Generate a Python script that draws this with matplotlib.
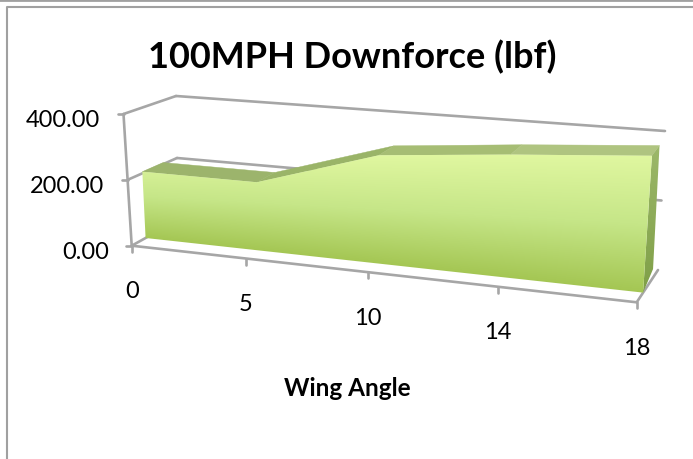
import numpy as np
import matplotlib
matplotlib.use('Agg')
import matplotlib.pyplot as plt
from matplotlib.colors import LinearSegmentedColormap
from matplotlib.patches import Polygon

plt.rcParams['font.family'] = ['Lato', 'DejaVu Sans']

# donnees
categories = ['0', '5', '10', '14', '18']
downforce = [205, 205, 317, 350, 378]
y_ticks = [0, 200, 400]
y_labels = ['0.00', '200.00', '400.00']

# coins de la boite 3D en pixels : (bas, haut)
FL = ((131.7, 246.7), (123.5, 115.0))
FR = ((636.7, 303.3), (647.0, 156.0))
BL = ((178.0, 221.0), (176.0, 97.0))
BR = ((658.0, 271.0), (665.0, 132.0))
PERSP = 1.14
YMAX = 400.0
D_FRONT, D_BACK = 0.30, 0.72


def projeter(i, val, d):
    # indice de categorie, valeur, profondeur (0 devant, 1 derriere) -> pixels
    u = i / (len(categories) - 1)
    t = u / (u + PERSP * (1 - u))
    v = val / YMAX
    pts = []
    for k in (0, 1):
        front = (1 - t) * np.array(FL[k]) + t * np.array(FR[k])
        back = (1 - t) * np.array(BL[k]) + t * np.array(BR[k])
        pts.append((1 - d) * front + d * back)
    return (1 - v) * pts[0] + v * pts[1]


fig = plt.figure(figsize=(6.93, 4.60), dpi=100)
ax = fig.add_axes([0, 0, 1, 1])
ax.set_xlim(0, 693)
ax.set_ylim(460, 0)
ax.axis('off')

GRIS = '#a6a6a6'
n = len(categories)


def ligne(p, q, lw=1.9):
    ax.plot([p[0], q[0]], [p[1], q[1]], color=GRIS, lw=lw, solid_capstyle='round', zorder=1)


# cadre
ax.plot([0, 693], [0.5, 0.5], color='#a0a0a0', lw=2.0, zorder=1)
ax.plot([6.5, 6.5, 693], [460, 8, 8], color='#a0a0a0', lw=1.5, zorder=1)

# grille (mur du fond et mur gauche)
for val in y_ticks:
    a = projeter(0, val, 0)
    b = projeter(0, val, 1)
    c = projeter(n - 1, val, 1)
    ligne(a, b)
    if val > 0:
        ligne(b, c)
    ligne(a, (a[0] - 5.5, a[1]))

# axes
ligne(projeter(0, 0, 0), projeter(0, YMAX, 0))
ligne(projeter(0, 0, 0), projeter(n - 1, 0, 0))
ligne(projeter(n - 1, 0, 0), projeter(n - 1, 0, 1))
for i in range(n):
    p = projeter(i, 0, 0)
    ligne(p, (p[0], p[1] + 6))

# aire en 3D
face = [projeter(i, downforce[i], D_FRONT) for i in range(n)]
fond = [projeter(i, downforce[i], D_BACK) for i in range(n)]
bas_g = projeter(0, 0, D_FRONT)
bas_d = projeter(n - 1, 0, D_FRONT)
bas_d_fond = projeter(n - 1, 0, D_BACK) + np.array([1.0, -10.0])

# dessus, un quadrilatere par intervalle
couleurs_dessus = ['#9cb46c', '#9ab468', '#a6bd74', '#afc480']
for i in range(n - 1):
    ax.add_patch(Polygon([face[i], face[i + 1], fond[i + 1], fond[i]],
                         closed=True, fc=couleurs_dessus[i], ec=couleurs_dessus[i],
                         lw=0.3, zorder=2))

# cote droit
cote = Polygon([face[-1], fond[-1], bas_d_fond, bas_d], closed=True, fc='none', ec='none')
ax.add_patch(cote)
cm_cote = LinearSegmentedColormap.from_list('cote', ['#9cb86a', '#7f9f47'])
gy = np.linspace(0, 1, 200).reshape(-1, 1)
im = ax.imshow(gy, cmap=cm_cote, extent=[face[-1][0] - 12, bas_d_fond[0] + 12, bas_d[1], fond[-1][1]],
               aspect='auto', zorder=3, origin='upper')
im.set_clip_path(cote)

# face avant avec degrade
contour = [bas_g] + face + [bas_d]
poly = Polygon(contour, closed=True, fc='none', ec='none')
ax.add_patch(poly)
cm_face = LinearSegmentedColormap.from_list('face', ['#e0f7a0', '#c6e688', '#a4c653'])
xx, yy = np.meshgrid(np.arange(130, 660), np.arange(140, 310))
y_bas = bas_g[1] + (xx - bas_g[0]) * (bas_d[1] - bas_g[1]) / (bas_d[0] - bas_g[0])
s = np.clip((yy - 155.0) / (y_bas - 155.0), 0, 1)
im2 = ax.imshow(s, cmap=cm_face, vmin=0, vmax=1, extent=[130, 660, 310, 140], aspect='auto', zorder=4)
im2.set_clip_path(poly)
ax.set_xlim(0, 693)
ax.set_ylim(460, 0)

# textes
ax.text(352, 57, '100MPH Downforce (lbf)', fontsize=26, fontweight='bold',
        ha='center', va='center', color='black')
for val, lab in zip(y_ticks, y_labels):
    p = projeter(0, val, 0)
    ax.text(p[0] - 23, p[1] + 5.5, lab, fontsize=17, ha='right', va='center', color='black')
for i, lab in enumerate(categories):
    p = projeter(i, 0, 0)
    ax.text(p[0], p[1] + 45, lab, fontsize=17, ha='center', va='center', color='black')
ax.text(347, 389, 'Wing Angle', fontsize=17.5, fontweight='bold', ha='center', va='center', color='black')

fig.savefig('out.png', dpi=100)
